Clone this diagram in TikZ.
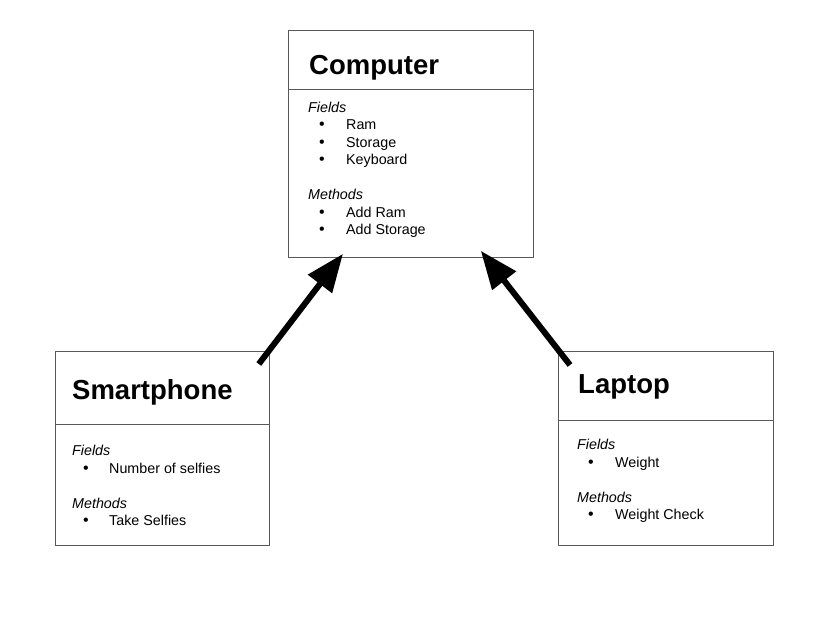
\documentclass[tikz,border=0pt]{standalone}
\usepackage{fontspec}
\setmainfont{Liberation Sans}
\usetikzlibrary{arrows.meta, calc}
\tikzset{classbox/.style={draw=black!65, line width=0.8pt, inner sep=0pt, anchor=north west},
  divider/.style={draw=black!65, line width=0.8pt},
  classname/.style={anchor=base west, inner sep=0pt, font=\bfseries\fontsize{27.5}{32}\selectfont},
  grouphead/.style={anchor=base west, inner sep=0pt, font=\itshape\fontsize{14.3}{17}\selectfont},
  member/.style={anchor=base west, inner sep=0pt, font=\fontsize{14.3}{17}\selectfont},
  bulletmark/.style={anchor=base, inner sep=0pt, font=\fontsize{16}{17}\selectfont},
  inherit/.style={-{Triangle[length=38pt,width=29pt]}, line width=6pt}}

\begin{document}
\begin{tikzpicture}[x=1pt, y=-1pt]
        \useasboundingbox (0,0) rectangle (830,621);

        % Computer
        \node[classbox, minimum width=245pt, minimum height=227pt] at (288,30) (computer) {};
        \draw[divider] (computer.west |- 0,89) -- (computer.east |- 0,89);
        \node[classname] at (309,74) (compName) {Computer};
        \node[grouphead] at (308,112) (compFields) {Fields};
        \node[bulletmark] at (322,129) (compB1) {•};
        \node[member] at (346,129) (compRam) {Ram};
        \node[bulletmark] at (322,147) (compB2) {•};
        \node[member] at (346,147) (compStorage) {Storage};
        \node[bulletmark] at (322,164) (compB3) {•};
        \node[member] at (346,164) (compKeyboard) {Keyboard};
        \node[grouphead] at (308,199) (compMethods) {Methods};
        \node[bulletmark] at (322,217) (compB4) {•};
        \node[member] at (346,217) (compAddRam) {Add Ram};
        \node[bulletmark] at (322,234) (compB5) {•};
        \node[member] at (346,234) (compAddStorage) {Add Storage};

        % Smartphone
        \node[classbox, minimum width=214pt, minimum height=194pt] at (55,351) (smartphone) {};
        \draw[divider] (smartphone.west |- 0,424) -- (smartphone.east |- 0,424);
        \node[classname] at (72,399) (smartName) {Smartphone};
        \node[grouphead] at (72,455) (smartFields) {Fields};
        \node[bulletmark] at (86,473) (smartB1) {•};
        \node[member] at (109,473) (smartSelfies) {Number of selfies};
        \node[grouphead] at (72,508) (smartMethods) {Methods};
        \node[bulletmark] at (86,525) (smartB2) {•};
        \node[member] at (109,525) (smartTake) {Take Selfies};

        % Laptop
        \node[classbox, minimum width=215pt, minimum height=194pt] at (558,351) (laptop) {};
        \draw[divider] (laptop.west |- 0,420) -- (laptop.east |- 0,420);
        \node[classname] at (578,393) (lapName) {Laptop};
        \node[grouphead] at (577,449) (lapFields) {Fields};
        \node[bulletmark] at (591,467) (lapB1) {•};
        \node[member] at (615,467) (lapWeight) {Weight};
        \node[grouphead] at (577,502) (lapMethods) {Methods};
        \node[bulletmark] at (591,519) (lapB2) {•};
        \node[member] at (615,519) (lapCheck) {Weight Check};

        % inheritance
        \draw[inherit] ($(smartphone.north east)+(-11,13)$) -- ($(computer.south west)+(55,-4)$);
        \draw[inherit] ($(laptop.north west)+(12,14)$) -- ($(computer.south east)+(-53,-7)$);
\end{tikzpicture}
\end{document}
